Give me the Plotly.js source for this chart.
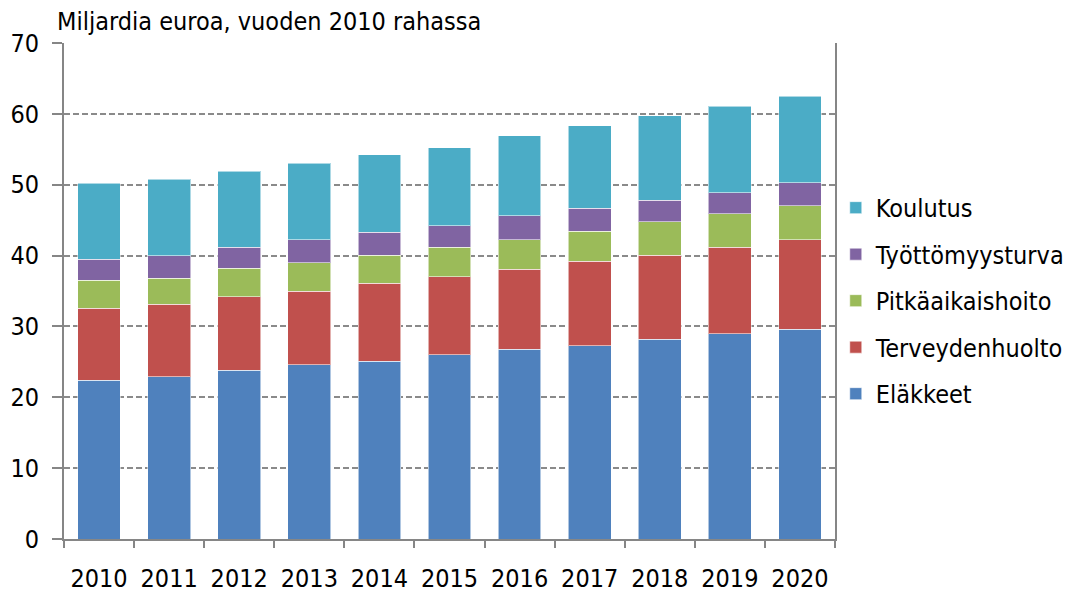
<!DOCTYPE html>
<html>
<head>
<meta charset="utf-8">
<script src="https://cdn.plot.ly/plotly-3.0.1.min.js"></script>
<style>
html,body{margin:0;padding:0;background:#fff;}
#chart{width:1073px;height:593px;}
</style>
</head>
<body>
<div id="chart"></div>
<script>
const years = ["2010","2011","2012","2013","2014","2015","2016","2017","2018","2019","2020"];
const elakkeet        = [22.4, 22.9, 23.8, 24.6, 25.1, 26.0, 26.8, 27.3, 28.2, 29.0, 29.6];
const terveydenhuolto = [10.2, 10.2, 10.4, 10.4, 11.0, 11.0, 11.3, 11.9, 11.85, 12.2, 12.65];
const pitkaaikaishoito= [3.9, 3.7, 4.0, 4.0, 3.95, 4.2, 4.15, 4.2, 4.75, 4.7, 4.75];
const tyottomyysturva = [3.0, 3.2, 3.0, 3.25, 3.25, 3.0, 3.35, 3.3, 3.0, 3.0, 3.3];
const koulutus        = [10.7, 10.8, 10.7, 10.8, 10.9, 11.05, 11.3, 11.6, 11.9, 12.2, 12.2];

const FONT = "'DejaVu Sans Condensed', 'DejaVu Sans', 'Liberation Sans', sans-serif";
const FS = 25;

const series = [
  {name: "Eläkkeet", y: elakkeet, color: "#4F81BD"},
  {name: "Terveydenhuolto", y: terveydenhuolto, color: "#C0504D"},
  {name: "Pitkäaikaishoito", y: pitkaaikaishoito, color: "#9BBB59"},
  {name: "Työttömyysturva", y: tyottomyysturva, color: "#8064A2"},
  {name: "Koulutus", y: koulutus, color: "#4BACC6"}
];

const data = series.map((s, i) => ({
  type: "bar",
  x: years,
  y: s.y,
  name: s.name,
  legendgroup: "g" + i,
  legendrank: 1000 - i,
  marker: {color: s.color, line: {color: "rgba(255,255,255,0.55)", width: 1}},
  hoverinfo: "skip"
}));

const layout = {
  width: 1073,
  height: 593,
  margin: {l: 64, r: 238, t: 43, b: 54, autoexpand: false},
  barmode: "stack",
  bargap: 0.39,
  paper_bgcolor: "#ffffff",
  plot_bgcolor: "#ffffff",
  font: {family: FONT, size: FS, color: "#000000"},
  title: {
    text: "Miljardia euroa, vuoden 2010 rahassa",
    xref: "container", yref: "container",
    x: 57/1073, xanchor: "left",
    y: 1 - 21/593, yanchor: "middle",
    font: {family: FONT, size: FS, color: "#000000"}
  },
  xaxis: {
    type: "category",
    showline: true, linecolor: "#868686", linewidth: 2,
    ticks: "outside", tickson: "boundaries", ticklen: 7, tickwidth: 2, tickcolor: "#868686",
    ticklabelstandoff: 16,
    showgrid: false, zeroline: false,
    tickfont: {family: FONT, size: FS, color: "#000000"}
  },
  yaxis: {
    range: [0, 70],
    dtick: 10,
    showline: true, mirror: true, linecolor: "#868686", linewidth: 2,
    ticks: "outside", ticklen: 10, tickwidth: 2, tickcolor: "#868686",
    ticklabelstandoff: 8,
    showgrid: true, gridcolor: "#8a8a8a", gridwidth: 2, griddash: "6px,3px",
    zeroline: false,
    tickfont: {family: FONT, size: FS, color: "#000000"}
  },
  legend: {
    x: 1.001, xanchor: "left",
    y: 0.48, yanchor: "middle",
    traceorder: "grouped",
    tracegroupgap: 11,
    itemwidth: 30,
    font: {family: FONT, size: FS, color: "#000000"},
    bgcolor: "rgba(0,0,0,0)"
  },
  showlegend: true
};

Plotly.newPlot("chart", data, layout, {displayModeBar: false, staticPlot: true});
</script>
</body>
</html>
